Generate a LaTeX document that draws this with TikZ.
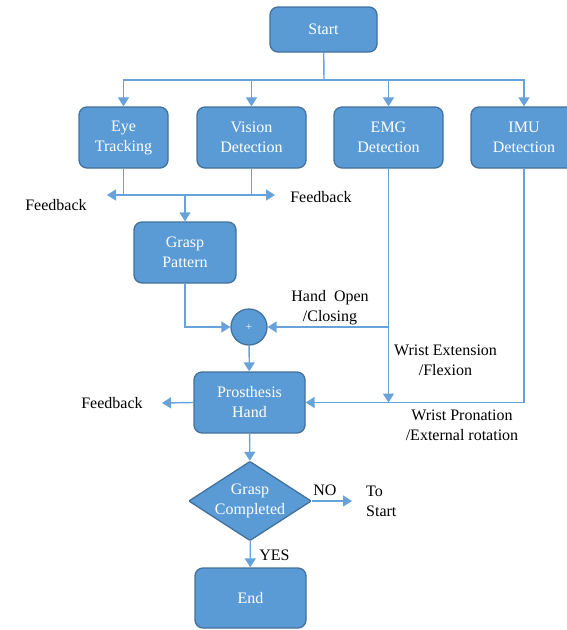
\documentclass[tikz,border=0pt]{standalone}
\usepackage{fontspec}
\setmainfont{Liberation Serif}
\newfontfamily\chartfont{Liberation Serif}
\usetikzlibrary{arrows.meta,shapes.geometric,calc}

\definecolor{BoxBlue}{RGB}{91,155,213}
\definecolor{BoxEdge}{RGB}{65,113,156}
\definecolor{LineBlue}{RGB}{104,162,218}

\begin{document}
\begin{tikzpicture}[x=1pt, y=-1pt, >={Triangle[length=9pt,width=11pt]},
    box/.style={draw=BoxEdge, line width=1.3pt, fill=BoxBlue, rounded corners=8pt, text=white,
                align=center, inner sep=0pt, font=\chartfont\fontsize{16}{20}\selectfont},
    flow/.style={draw=LineBlue, line width=1.4pt, ->},
    txt/.style={align=center, inner sep=0pt, font=\chartfont\fontsize{16}{20}\selectfont}]
        \useasboundingbox (0,0) rectangle (567,630);

        % blocks
        \node[box, minimum width=107pt, minimum height=45pt] (Start) at (323.5,29.5) {Start};
        \node[box, minimum width=89pt, minimum height=61pt] (Eye) at (123.5,137.5) {Eye\\Tracking};
        \node[box, minimum width=109pt, minimum height=61pt] (Vision) at (251.5,137.5) {Vision\\Detection};
        \node[box, minimum width=109pt, minimum height=61pt] (EMG) at (388.5,137.5) {EMG\\Detection};
        \node[box, minimum width=106pt, minimum height=61pt] (IMU) at (524,137.5) {IMU\\Detection};
        \node[box, minimum width=102pt, minimum height=61pt] (Grasp) at (185,252.5) {Grasp\\Pattern};
        \node[box, circle, minimum size=36pt, font=\chartfont\fontsize{11}{13}\selectfont] (Sum) at (249,327) {+};
        \node[box, minimum width=111pt, minimum height=61pt] (Hand) at (249.5,402.5) {Prosthesis\\Hand};
        \node[box, diamond, aspect=1.545, minimum width=119pt, minimum height=77pt, rounded corners=1pt] (Check) at (250,501) {Grasp\\Completed};
        \node[box, minimum width=111pt, minimum height=60pt] (End) at (250.5,598) {End};

        % sensors
        \coordinate (Bus) at (324,80);
        \draw[flow, -] (Start) -- (Bus);
        \foreach \n in {Eye,Vision,EMG,IMU}
            \draw[flow] (Bus) -| (\n.north);

        \coordinate (FbLeft) at (107,195);
        \coordinate (FbRight) at (275,195);
        \draw[flow, -] (Eye.south) -- (Eye.south |- FbLeft);
        \draw[flow] (Eye.south |- FbLeft) -- (FbLeft);
        \draw[flow] (Eye.south |- FbLeft) -- (FbRight);
        \draw[flow, -] (Vision.south) -- (Vision.south |- FbRight);
        \draw[flow] (Grasp.north |- FbLeft) -- (Grasp.north);
        \node[txt] (FbEye) at (56,205) {Feedback};
        \node[txt] (FbVision) at (321,197) {Feedback};

        % summing point and hand
        \draw[flow] (Grasp.south) |- (Sum.west);
        \coordinate (EmgJ) at (EMG.south |- Sum);
        \draw[flow] (EMG.south) -- (EMG.south |- Hand.east);
        \draw[flow] (EmgJ) -- (Sum.east);
        \draw[flow] (IMU.south) |- (Hand.east);
        \draw[flow] (Sum) -- (Hand);
        \node[txt] (OpenLbl) at (330,307.5) {Hand~ Open\\/Closing};
        \node[txt] (ExtLbl) at (445.5,360) {Wrist Extension\\/Flexion};
        \node[txt] (ProLbl) at (462,425) {Wrist Pronation\\/External rotation};

        \coordinate (FbHand) at (162,403);
        \draw[flow] (Hand.west) -- (FbHand);
        \node[txt] (FbH) at (112,403) {Feedback};

        % decision
        \draw[flow] (Hand) -- (Check);
        \coordinate (ToStart) at (352,501);
        \draw[flow] (Check.east) -- (ToStart);
        \node[txt] (No) at (325,490) {NO};
        \node[txt, align=left, anchor=west] (To) at (366,501) {To\\Start};
        \draw[flow] (Check) -- (End);
        \node[txt] (Yes) at (274.5,555) {YES};
    \end{tikzpicture}
\end{document}
